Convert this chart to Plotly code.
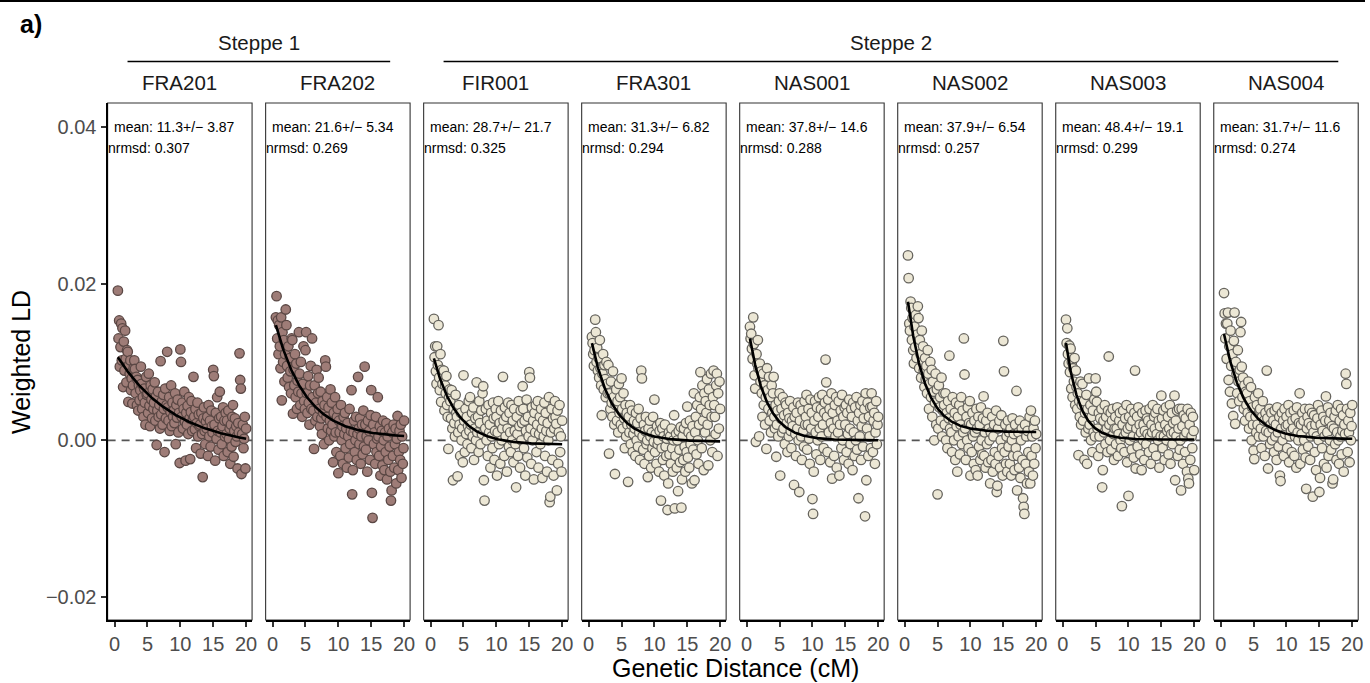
import numpy as np
import plotly.graph_objects as go

# ---------------------------------------------------------------- data
samples = ["FRA201", "FRA202", "FIR001", "FRA301", "NAS001", "NAS002", "NAS003", "NAS004"]
group_of = ["Steppe 1", "Steppe 1", "Steppe 2", "Steppe 2", "Steppe 2", "Steppe 2", "Steppe 2", "Steppe 2"]

# admixture date estimates (generations) and fit quality
mean_gen = [11.3, 21.6, 28.7, 31.3, 37.8, 37.9, 48.4, 31.7]
mean_se = ["3.87", "5.34", "21.7", "6.82", "14.6", "6.54", "19.1", "11.6"]
nrmsd = ["0.307", "0.269", "0.325", "0.294", "0.288", "0.257", "0.299", "0.274"]

# exponential fit: LD(d) = amp * exp(-mean/100 * d) + offset   (units of 1e-4)
fit_amp = [123.6, 160.0, 127.0, 147.0, 157.0, 201.0, 157.0, 157.0]
fit_offset = [-10.9, 3.4, -5.5, -1.6, 0.0, 10.5, 1.0, 1.7]

# weighted LD per 0.1 cM bin starting at 0.5 cM (units of 1e-4)
ld_FRA201 = [
    191, 130, 153, 94, 119,
    149, 102, 143, 68, 126, 89, 140, 104, 74, 115,
    113, 49, 96, 85, 102, 64, 79, 47, 70, 92,
    102, 91, 60, 81, 45, 77, 38, 70, 51, 64,
    94, 72, 40, 55, 30, 66, 48, 20, 81, 58,
    60, 35, 85, 44, 18, 70, 52, 28, 65, 40,
    48, 74, 25, 56, -6, 38, 62, 30, 45, 15,
    101, 33, 50, 20, 58, 40, -15, 66, 28, 45,
    113, 42, 25, 55, 12, 36, 70, 18, 48, 30,
    38, 22, 60, -5, 45, 29, 52, 10, 35, -29,
    116, 100, 30, 48, 15, 40, 62, 24, -26, 35,
    20, 44, 8, 55, 28, -24, 36, 50, 12, 26,
    81, 30, 14, 40, -10, 22, 48, 5, 33, 18,
    20, -17, 35, 8, -47, 28, 42, 12, -5, 24,
    15, 30, -20, 45, 5, 25, -8, 38, 18, 10,
    90, 82, 20, -26, 35, 2, 55, 12, -12, 28,
    62, 10, 30, -5, 18, 42, -20, 25, 5, 35,
    8, 25, -15, 38, 2, 15, -30, 20, -8, 30,
    45, -21, 12, 28, -2, 18, 5, -36, 22, 10,
    111, 77, 66, -43, 8, 20, -10, 2, 30, -36, 15,
]
ld_FRA202 = [
    157, 184, 130, 153, 110,
    147, 120, 92, 157, 51, 138, 100, 128, 75, 110,
    167, 147, 95, 80, 120, 68, 105, 88, 60, 130,
    128, 34, 90, 70, 110, 55, 98, 40, 76, 62,
    138, 85, 45, 100, 60, 30, 72, 120, 50, 40,
    115, 138, 60, 35, 82, 48, 20, 70, 95, 40,
    130, 55, 38, -11, 70, 25, 48, 90, 30, 60,
    80, 40, 18, 62, 28, 8, 50, 35, -5, 45,
    102, 94, 30, 55, 15, 42, 0, 25, 65, 12,
    48, 20, -28, 35, 5, 55, 10, -15, 30, 40,
    -42, 25, 10, -20, 45, 0, 18, -30, 30, 8,
    35, -10, 15, -35, 22, 5, -22, 40, -5, 12,
    64, -69, -38, 10, 25, -15, 0, 30, -25, 8,
    81, 15, -5, 28, -30, 5, 20, -18, 38, -8,
    94, 20, -12, 5, -40, 25, 0, 12, -25, 32,
    64, -67, -99, 20, -5, 10, -30, 30, -15, 2,
    55, 5, -20, 18, -45, -8, 12, -32, 25, 0,
    -38, 10, -15, 22, -50, 5, -25, 15, -8, -40,
    -77, -64, 10, -20, 20, -35, -5, 15, -55, 2,
    31, -38, -15, 12, -25, 20, -48, 5, -30, -10, 25,
]
ld_FIR001 = [
    155, 106, 120, 88, 72,
    120, 96, 147, 80, 64, 110, 49, 90, 72, 85,
    89, 38, 70, 60, 82, 45, 30, -11, 55, 65,
    50, 28, 64, 15, -51, 40, 22, 5, 58, 35,
    30, -46, 10, 45, 20, -20, 35, 0, 15, -28,
    83, 25, -15, 40, 8, 30, -5, 18, 50, 12,
    55, 20, -10, 35, 5, 42, -25, 15, 28, 0,
    74, 10, 30, -15, 50, 22, -5, 38, 8, 60,
    69, -51, -77, 15, 40, 0, 25, -20, 45, 10,
    20, -35, 35, 5, -10, 48, 28, -25, 12, 40,
    30, -45, 10, 50, -5, 22, -30, 38, 0, 15,
    81, 25, -20, 42, 5, 30, -40, 15, 48, -8,
    35, 10, -15, 45, 0, 25, -28, 40, 12, -5,
    -60, 30, 8, -20, 50, 18, -35, 38, 0, 22,
    69, 40, -10, 25, -45, 12, 52, -22, 30, 5,
    87, 80, 15, -30, 42, 0, 25, -50, 35, 10,
    45, -15, 20, 50, -35, 8, 30, -5, 40, 15,
    -48, 25, 5, 48, -20, 35, 12, -40, 22, 0,
    55, -79, -72, 10, 40, -25, 28, -45, 15, 50,
    30, 21, -64, 38, -30, 10, 45, -15, 5, -40, 25,
]
ld_FRA301 = [
    132, 124, 110, 95, 115,
    154, 138, 100, 118, 89, 105, 80, 128, 92, 70,
    32, 85, 110, 65, 96, 78, 55, 100, 72, 60,
    96, -17, 60, 40, 75, 48, 30, 88, 55, 20,
    -43, 45, 65, 25, 50, 10, 72, 35, 55, 20,
    79, 40, 15, 60, 28, -10, 45, 5, 35, 20,
    -53, 30, 10, 45, -5, 20, 38, -15, 8, 25,
    15, -20, 35, 0, 22, -8, 40, 10, -25, 28,
    89, 79, 5, -12, 20, -30, 12, 30, -5, 0,
    -47, 15, -20, 25, 5, -35, 10, -10, 30, -2,
    52, -15, 8, -30, 18, -5, 0, -40, 12, 22,
    -77, -10, 15, -25, 5, -45, 20, -8, -20, 2,
    -89, -55, 10, -18, 5, -30, 15, -10, -40, 0,
    32, -87, -20, 8, -35, 0, -65, 12, -12, -28,
    17, -86, -50, 5, -25, 15, -8, -40, 22, -15,
    43, -22, 10, -35, 25, -5, 5, -55, 18, -12,
    60, -51, 10, 30, -18, 45, 0, -30, 20, 55,
    87, 40, -10, 70, 25, -38, 60, 10, 50, 35,
    78, 20, -32, 65, 45, 0, 85, 30, -15, 55,
    89, 45, 30, 8, 70, 85, -20, 60, 15, 75, 40,
]
ld_NAS001 = [
    145, 130, 136, 117, 104,
    157, 123, 83, 66, -2, 110, 98, 128, 92, 5,
    98, 75, 88, 60, 30, 85, 45, 70, 20, 55,
    -11, 92, 64, 40, 81, 25, 55, 10, 70, 35,
    60, 81, 30, 15, 45, -21, 20, 38, 5, 50,
    60, -45, 28, 40, 10, 55, 15, 32, -5, 48,
    45, 22, -15, 35, 5, 28, 50, 12, -10, 25,
    18, 42, -57, 30, 8, -20, 35, 15, 48, 0,
    -66, 25, 45, 5, -25, 38, 12, -8, 50, 20,
    30, 58, -12, 20, 40, 2, -30, 52, 15, 35,
    -75, -94, -40, 25, 50, 10, -18, 42, 0, 30,
    55, 15, -25, 40, 5, 58, 20, -10, 35, 48,
    103, 74, 30, -15, 52, 10, 40, -28, 22, 60,
    -49, 35, 15, -20, 45, 5, 55, -35, 25, 10,
    50, -45, 20, 38, -10, 58, 0, 30, -25, 42,
    20, 45, -15, 35, 8, -30, 52, 15, -5, 40,
    30, -38, 48, 10, -20, 42, 0, 55, -12, 25,
    -74, 35, 5, 45, -25, 18, 50, -8, 28, 40,
    -97, 60, -51, 15, 48, -20, 30, 5, 42, -10,
    60, 43, -15, 25, 35, -30, 10, 50, -5, 20, 30,
]
ld_NAS002 = [
    236, 207, 149, 140, 177,
    169, 128, 156, 115, 98, 145, 119, 160, 105, 135,
    171, 156, 92, 128, 110, 80, 140, 100, 120, 89,
    68, 105, 78, 95, 60, 115, 85, 40, 72, 100,
    55, 90, 30, 75, 62, 0, 48, 85, 20, 65,
    -69, 15, 70, 42, 55, 25, 80, 5, 38, 60,
    45, 20, 60, 0, 35, -10, 50, 28, 108, 15,
    40, 10, -15, 55, 25, 0, 35, -25, 48, 18,
    -40, 30, 5, 45, -18, 20, 55, -5, 38, 10,
    130, 84, 15, -25, 30, 0, 42, -10, 22, 50,
    -45, 20, -15, 35, 5, -30, 25, 10, -38, 40,
    15, -45, 30, -8, 20, -25, 42, 0, -18, 28,
    56, -20, 10, -35, 25, -5, 35, -28, 15, 0,
    -55, 10, -25, 30, -40, 5, 20, -15, -30, 38,
    -66, -58, 15, -20, 25, -35, 0, 32, -10, -45,
    127, 88, -15, 20, -30, 5, -40, 25, -8, 10,
    -30, 15, -45, 0, 28, -20, 8, -38, 20, -10,
    63, -64, -20, 10, -35, 25, -48, 0, 15, -25,
    -74, -85, -94, 20, -30, 5, -55, 12, -15, -40,
    30, -55, 38, -20, 5, -45, 15, -30, 25, -10, 8,
]
ld_NAS003 = [
    154, 124, 143, 110, 98,
    121, 87, 117, 66, 100, 55, 92, 75, 105, 45,
    89, 68, 40, 60, -19, 50, 30, 75, 20, 45,
    72, 25, 50, -25, 35, 10, 58, -30, 40, 15,
    79, 20, 45, 0, 30, -15, 38, 10, 52, 5,
    79, 62, 49, 15, -20, 35, 5, 28, -10, 40,
    -60, -38, 25, 10, 45, -5, 30, 15, -15, 38,
    107, 20, 0, 35, -12, 25, 40, 8, -25, 15,
    30, -5, 15, 42, -20, 8, 25, 35, 0, -10,
    -84, 20, 38, 5, -15, 28, 10, 45, -28, 15,
    -71, 30, 0, 18, 40, -12, 25, 5, -22, 35,
    89, -36, 15, 30, -8, 42, 5, 20, -18, 10,
    -38, 35, 0, 20, -25, 12, 38, -5, 28, 8,
    25, -15, 40, 5, -30, 20, 10, 45, -10, 30,
    15, 35, -20, 8, 40, 0, 25, -35, 18, 5,
    57, 28, -10, 38, 5, -25, 20, 42, 0, 12,
    30, -18, 15, 45, -30, 8, 35, -5, 22, 10,
    57, -51, 25, 5, 38, -20, 15, 40, -12, 0,
    -64, 40, 18, -30, 32, 5, -15, 28, 10, -40,
    40, -49, -55, 20, -25, 35, 5, -10, 30, 12, -38,
]
ld_NAS004 = [
    188, 162, 130, 149, 104,
    149, 163, 77, 120, 62, 140, 95, 47, 110, 31,
    127, 163, 21, 100, 85, 60, 115, 75, 50, 90,
    138, 151, 94, 55, 80, 40, 70, 25, 62, 45,
    60, 35, 75, 15, 50, 30, 68, 0, 42, 20,
    -13, -24, 55, 30, 10, 45, 20, 60, 5, 38,
    40, 15, -10, 30, 50, 5, 25, -20, 35, 12,
    89, 28, -36, 10, 40, -5, 20, 35, 0, 15,
    25, -15, 38, 5, 20, -25, 42, 10, -8, 30,
    -45, -52, 15, 35, 0, 25, -20, 40, 8, 18,
    30, -10, 20, 45, -28, 5, 35, 12, -15, 25,
    15, 38, -20, 5, 28, -35, 42, 10, 0, 22,
    60, -30, 20, 8, 35, -12, 25, 0, 40, -22,
    -62, 15, 30, -8, 22, 40, -25, 5, 18, 35,
    -72, 10, 32, -15, 20, -38, 5, 28, 45, 0,
    -66, -48, 20, 38, -10, 12, 30, -30, 5, 25,
    56, -35, 10, 42, -20, 25, 0, 35, -12, 18,
    -55, -50, 15, 30, -5, 38, -25, 10, 45, 0,
    -30, 25, 5, 40, -18, 12, 32, -40, 20, 8,
    85, 72, 40, -15, 25, 10, -28, 35, 0, 18, 45,
]
ld_values = [ld_FRA201, ld_FRA202, ld_FIR001, ld_FRA301,
             ld_NAS001, ld_NAS002, ld_NAS003, ld_NAS004]

x_ticks = [0, 5, 10, 15, 20]
y_ticks = [-0.02, 0.0, 0.02, 0.04]
y_tick_text = ["\u22120.02", "0.00", "0.02", "0.04"]

# ---------------------------------------------------------------- layout geometry (px)
W, H = 1370, 683
FONT = "Liberation Sans, Arial, Helvetica, sans-serif"
panel_w = 145
panel_step = 158.6
first_left = 108
plot_top, plot_bot = 103, 620
x_range = [-1.06, 20.91]
y_range = [-0.02294, 0.04306]

fill_col = {"Steppe 1": "#9e7c77", "Steppe 2": "#ece7d5"}
edge_col = {"Steppe 1": "#5a4744", "Steppe 2": "#66645e"}


def px_x(v):
    return v / W


def px_y(v):
    return 1 - v / H


fig = go.Figure()
shapes = []
annotations = []

for i, name in enumerate(samples):
    suffix = "" if i == 0 else str(i + 1)
    xa, ya = "x" + suffix, "y" + suffix
    left = first_left + panel_step * i
    grp = group_of[i]

    y = np.array(ld_values[i], dtype=float) * 1e-4
    x = np.round(0.5 + 0.1 * np.arange(len(y)), 1)
    fig.add_trace(go.Scatter(
        x=x, y=y, mode="markers", xaxis=xa, yaxis=ya, showlegend=False,
        hoverinfo="skip",
        marker=dict(size=9.5, color=fill_col[grp],
                    line=dict(color=edge_col[grp], width=1.3)),
    ))

    xc = np.linspace(0.5, 20, 200)
    yc = (fit_amp[i] * np.exp(-mean_gen[i] / 100.0 * xc) + fit_offset[i]) * 1e-4
    fig.add_trace(go.Scatter(
        x=xc, y=yc, mode="lines", xaxis=xa, yaxis=ya, showlegend=False,
        hoverinfo="skip", line=dict(color="black", width=2.6),
    ))

    fig.layout["xaxis" + suffix] = dict(
        domain=[px_x(left), px_x(left + panel_w)], range=x_range, anchor=ya,
        tickvals=x_ticks, ticks="outside", ticklen=5, tickwidth=1.5,
        tickcolor="#333333", showline=True, linecolor="black", linewidth=2.2,
        mirror=False, showgrid=False, zeroline=False,
        tickfont=dict(family=FONT, size=20, color="#4d4d4d"),
    )
    yax = dict(
        domain=[px_y(plot_bot), px_y(plot_top)], range=y_range, anchor=xa,
        showgrid=False, zeroline=False,
    )
    if i == 0:
        yax.update(showline=True, linecolor="black", linewidth=2.2,
                   tickvals=y_ticks, ticktext=y_tick_text, ticks="outside",
                   ticklen=5, tickwidth=1.5, tickcolor="#333333",
                   tickfont=dict(family=FONT, size=20, color="#4d4d4d"))
    else:
        yax.update(showticklabels=False, ticks="")
    fig.layout["yaxis" + suffix] = yax

    # panel frame and zero reference line
    shapes.append(dict(type="rect", xref=xa + " domain", yref=ya + " domain",
                       x0=0, x1=1, y0=0, y1=1, layer="below",
                       line=dict(color="#333333", width=1.1)))
    shapes.append(dict(type="line", xref=xa + " domain", yref=ya,
                       x0=0, x1=1, y0=0, y1=0, layer="below",
                       line=dict(color="#555555", width=1.8, dash="8px,6px")))

    # panel header and fit summary
    annotations.append(dict(text=name, xref="paper", yref="paper",
                            x=px_x(left + panel_w / 2), y=px_y(82),
                            xanchor="center", yanchor="middle", showarrow=False,
                            font=dict(family=FONT, size=20.5, color="#1a1a1a")))
    annotations.append(dict(text=f"mean: {mean_gen[i]}+/\u2212 {mean_se[i]}",
                            xref="paper", yref="paper",
                            x=px_x(left + 4), y=px_y(127),
                            xanchor="left", yanchor="middle", showarrow=False,
                            font=dict(family=FONT, size=14, color="black")))
    annotations.append(dict(text=f"nrmsd: {nrmsd[i]}",
                            xref="paper", yref="paper",
                            x=px_x(left - 2), y=px_y(148),
                            xanchor="left", yanchor="middle", showarrow=False,
                            font=dict(family=FONT, size=14, color="black")))

# group strips over the panels
for grp, first, last in [("Steppe 1", 0, 1), ("Steppe 2", 2, 7)]:
    x0 = first_left + panel_step * first + 20
    x1 = first_left + panel_step * last + panel_w - 20
    shapes.append(dict(type="line", xref="paper", yref="paper",
                       x0=px_x(x0), x1=px_x(x1), y0=px_y(61.5), y1=px_y(61.5),
                       line=dict(color="black", width=1.6)))
    annotations.append(dict(text=grp, xref="paper", yref="paper",
                            x=px_x((x0 + x1) / 2), y=px_y(43),
                            xanchor="center", yanchor="middle", showarrow=False,
                            font=dict(family=FONT, size=20.5, color="#1a1a1a")))

# rule along the top edge
shapes.append(dict(type="line", xref="paper", yref="paper",
                   x0=0, x1=1, y0=px_y(1), y1=px_y(1),
                   line=dict(color="black", width=2)))

annotations.append(dict(text="<b>a)</b>", xref="paper", yref="paper",
                        x=px_x(18), y=px_y(24), xanchor="left", yanchor="middle",
                        showarrow=False,
                        font=dict(family=FONT, size=25, color="black")))
annotations.append(dict(text="Weighted LD", xref="paper", yref="paper",
                        x=px_x(21), y=px_y(362), xanchor="center",
                        yanchor="middle", textangle=-90, showarrow=False,
                        font=dict(family=FONT, size=25, color="black")))
annotations.append(dict(text="Genetic Distance (cM)", xref="paper", yref="paper",
                        x=px_x(738), y=px_y(668), xanchor="center",
                        yanchor="middle", showarrow=False,
                        font=dict(family=FONT, size=25, color="black")))

fig.update_layout(
    width=W, height=H, margin=dict(l=0, r=0, t=0, b=0),
    paper_bgcolor="white", plot_bgcolor="white",
    shapes=shapes, annotations=annotations,
    font=dict(family=FONT),
)

fig.write_html("out.html")
